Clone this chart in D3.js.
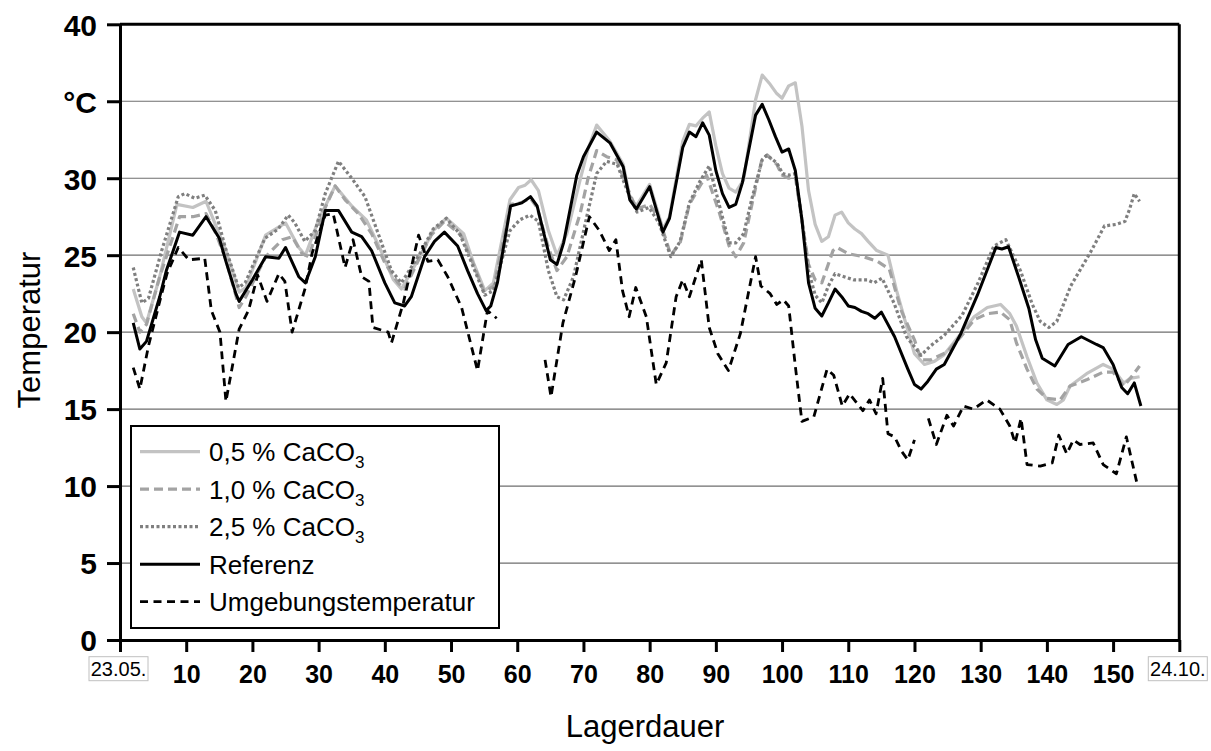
<html>
<head>
  <meta charset="utf-8">
  <title>Temperatur - Lagerdauer</title>
  <style>
    body { margin: 0; background: #fff; }
    svg { font-family: Arial, "Liberation Sans", sans-serif; }
  </style>
  <script src="https://d3js.org/d3.v7.min.js"></script>
</head>
<body>
<div id="chart"></div>
<script>
// Data: [day, temperature in °C]
var ca05 = [[2,22.8],[3.3,21.0],[4,20.6],[6,23.6],[8.6,28.3],[11,28.1],[13,28.5],[16,25.3],[18,22.6],[19,22.9],[22,26.3],[25,27.1],[27,25.5],[28,25.0],[30,27.3],[32.5,29.5],[35,28.2],[37.2,27.3],[39.2,25.5],[41.3,23.4],[42.5,22.8],[45.3,24.9],[47.3,26.6],[49.3,27.4],[51.9,26.4],[53.4,24.5],[55.1,22.7],[56.4,23.2],[58.9,28.6],[60.2,29.4],[61.2,29.55],[62.1,29.9],[63.2,29.2],[64.7,26.6],[66,25.0],[67.5,26.4],[69.5,29.9],[70.7,31.9],[72,33.45],[74,32.4],[76,30.9],[77,28.8],[78,28.2],[80,29.6],[82,26.7],[83,27.5],[85,32.4],[86,33.5],[87,33.4],[88,33.9],[89,34.3],[90,32.1],[91,30.3],[92,29.35],[93,29.1],[94.2,29.9],[96,35.1],[97,36.7],[98.2,36.1],[99.2,35.5],[100,35.2],[101,36.0],[102,36.2],[103,33.4],[104,29.2],[105,27.0],[106,25.9],[107,26.2],[108,27.6],[109,27.8],[110,27.1],[111,26.7],[112,26.4],[113,25.9],[114.3,25.3],[116,25.0],[117.3,22.7],[118.8,20.4],[120,18.6],[121.5,17.9],[123,18.1],[124.4,18.5],[127,19.9],[129,21.0],[131,21.6],[133,21.8],[134.4,21.2],[135.4,20.4],[137,18.4],[138.5,16.7],[140,15.6],[141.5,15.3],[142.5,15.6],[143.5,16.5],[146,17.3],[148.5,17.9],[150,17.6],[151.6,16.7],[152.6,17.0],[154,17.1]];

var ca10 = [[2,21.2],[3,20.0],[4,20.5],[6,23.6],[9,27.5],[11,27.5],[13,27.7],[14.5,26.4],[16,24.7],[18,21.6],[19,22.3],[22,24.9],[24.5,26.0],[26,26.2],[27.5,25.1],[28.5,24.9],[31,28.1],[32.5,29.5],[34,28.6],[36,27.7],[38,26.4],[40,24.5],[42,23.2],[43,22.8],[45,24.6],[47,26.3],[49,27.2],[51.5,26.3],[53.5,24.3],[55,22.6],[56.5,23.0],[59,28.3],[60.5,28.4],[62,28.7],[63,28.1],[64.7,25.5],[66,24.0],[67.5,24.9],[69.5,27.7],[70.7,30.0],[72,31.8],[73.5,31.4],[75,31.2],[76.6,29.4],[78,28.0],[80,28.3],[81.5,27.3],[83.2,25.0],[84.6,25.8],[86,28.3],[87.6,29.5],[88.6,30.2],[90.5,27.8],[92,25.6],[93,24.9],[94.2,25.8],[95.5,28.4],[97,31.3],[97.8,31.5],[99.2,30.9],[100,30.2],[101,30.0],[102,30.1],[103,27.3],[104,24.4],[105,23.4],[106,23.2],[107.7,25.3],[108.3,25.5],[110,25.1],[112.3,24.9],[114.4,24.6],[116.2,24.1],[118,21.4],[120,19.5],[121,18.2],[122.4,18.2],[124.9,18.7],[127,19.7],[129,20.8],[131,21.2],[133,21.3],[134.4,20.8],[135.4,19.3],[137,17.6],[138.5,16.3],[140,15.7],[142,15.6],[143.5,16.5],[146,16.9],[148.5,17.4],[150,17.4],[151.6,16.5],[152.6,17.0],[154,17.8]];

var ca25 = [[2,24.2],[3.3,21.9],[4.3,22.2],[6.3,25.3],[8.8,28.8],[9.8,29.0],[11.3,28.7],[12.8,28.9],[14.4,27.9],[15.9,25.5],[17.9,22.9],[18.9,23.2],[21.9,26.1],[23.9,26.7],[25.4,27.6],[26.4,27.1],[27.9,25.9],[29.5,26.6],[31,29.0],[33,31.1],[35,30.0],[37,28.8],[39,26.4],[41,24.0],[42.5,23.2],[45.3,25.1],[47.3,26.7],[49.3,27.4],[51.3,26.4],[53.4,24.2],[55.1,22.4],[56.4,22.7],[58.9,26.6],[60.4,27.3],[61.9,27.6],[63.2,27.2],[64.7,24.0],[66,22.3],[67,22.1],[68.5,23.6],[70.5,27.5],[72,30.3],[73.5,31.1],[75.1,30.9],[76.6,29.2],[78.1,27.8],[79.9,28.1],[81.4,27.1],[83.2,24.9],[84.6,25.9],[86,28.4],[87.6,29.8],[89,30.8],[90.5,28.3],[92,25.8],[93,25.8],[94.2,26.4],[95.4,28.6],[97,31.2],[97.7,31.5],[99.2,31.0],[100.1,30.3],[101,30.2],[102,30.3],[103,27.3],[104,24.0],[105,22.4],[106,21.9],[107,23.0],[108,23.8],[110.8,23.4],[112.9,23.4],[113.9,23.2],[115.1,23.5],[116.9,21.9],[118.8,19.7],[121,18.5],[122.4,19.1],[124.5,19.8],[127.2,21.1],[129.6,23.2],[132,25.6],[133.8,26.0],[136,24.0],[137.8,21.8],[139,20.7],[140.3,20.3],[141.5,20.7],[143.6,23.0],[146.6,25.2],[148.7,26.9],[150.5,27.0],[151.8,27.2],[152.5,28.0],[153.2,29.0],[154,28.5]];

var ref = [[2,20.6],[3,18.9],[4,19.4],[6,22.3],[7,24.0],[9,26.5],[11,26.3],[13,27.5],[15,26.1],[16,24.6],[17.5,22.5],[18,22.0],[20,23.4],[22,24.9],[24,24.8],[25,25.5],[27,23.6],[28,23.2],[29.5,24.9],[31,27.9],[33,27.9],[35,26.5],[36.5,26.2],[38,25.3],[40,23.2],[41.5,21.9],[43,21.7],[44,22.3],[46,24.9],[47.5,25.9],[49,26.5],[51,25.6],[52.5,24.0],[54,22.5],[55.3,21.4],[56,21.7],[57,23.2],[59,28.2],[60.7,28.4],[62,28.8],[63,28.2],[65,24.7],[66,24.4],[67,25.8],[69,30.2],[70,31.4],[72,33.0],[74,32.3],[76,30.75],[77,28.6],[78,28.0],[80,29.45],[82,26.5],[83,27.4],[85,32.0],[86,33.0],[87,32.7],[88,33.6],[89,32.8],[90,30.5],[91,29.0],[92,28.1],[93,28.3],[94,29.7],[96,34.1],[97,34.8],[98,33.8],[99,32.7],[100,31.7],[101,31.9],[102,30.5],[103,27.3],[104,23.2],[105,21.55],[106,21.05],[107,21.9],[108,22.8],[109,22.3],[110,21.7],[111,21.6],[112,21.35],[113,21.2],[114,20.9],[115,21.3],[117,19.7],[119,17.6],[120,16.6],[121,16.3],[122,16.8],[123.3,17.6],[124.5,17.9],[127,19.9],[129.5,22.4],[132.3,25.5],[133.2,25.4],[134.2,25.55],[135.8,23.5],[137.3,21.5],[138.3,19.5],[139.3,18.3],[141.2,17.8],[143.2,19.2],[145.2,19.7],[147.5,19.2],[148.5,19.0],[150,17.9],[151.3,16.4],[152.2,16.0],[153.2,16.7],[154.2,15.2]];

var ambient = [[2,17.7],[3,16.3],[4.3,19.1],[6.3,22.5],[7.1,23.8],[8.8,25.5],[10.4,24.7],[12.8,24.8],[13.8,21.4],[15.1,20.0],[16,15.5],[18,20.2],[19.4,21.4],[20.8,23.7],[22.2,22.0],[24,23.8],[24.9,23.3],[26,20.0],[28,22.9],[29,25.1],[31,27.6],[32.2,27.7],[34,24.2],[35.2,26.0],[36.5,23.6],[37.6,23.3],[38.2,20.3],[40.5,20.0],[41,19.3],[42.8,21.9],[45.1,26.3],[46.5,24.6],[48,24.7],[49.5,23.6],[51.6,21.6],[54,17.5],[55.5,21.4],[56.9,20.9],[60,null],[64.2,18.2],[65.1,15.8],[66.9,20.6],[68.8,23.6],[70.9,27.5],[72.4,26.6],[73.9,25.3],[74.9,26.0],[75.9,22.7],[76.9,21.0],[77.9,22.9],[79.5,21.0],[81,16.6],[82.5,18.0],[84,22.3],[85,23.4],[86,22.3],[87.8,24.7],[89,20.3],[90.3,18.6],[91.9,17.5],[93.7,19.9],[96,24.9],[96.8,23.0],[98.2,22.5],[99.2,21.8],[100.2,22.1],[101,21.7],[102,17.8],[103,14.2],[104.8,14.5],[106.8,17.6],[107.8,17.2],[109.1,15.2],[110.2,16.0],[112.2,14.9],[113.2,15.6],[114.2,14.7],[115.2,17.0],[116,13.4],[117,13.2],[118,12.3],[119,11.7],[120,13.0],[121,null],[122.1,14.4],[123.3,12.7],[124.9,14.6],[125.9,13.9],[127.4,15.2],[128.9,15.0],[130.9,15.6],[132.9,15.0],[134.4,13.9],[135.2,12.8],[136.1,14.4],[137,11.4],[139,11.3],[140.8,11.5],[141.8,13.3],[143,12.1],[144,13.0],[145,12.7],[147,12.8],[148.5,11.4],[150.5,10.8],[152,13.2],[153.7,10.0]];

var seriesNames = ["0,5 % CaCO", "1,0 % CaCO", "2,5 % CaCO", "Referenz", "Umgebungstemperatur"];
var xTicks = [0, 10, 20, 30, 40, 50, 60, 70, 80, 90, 100, 110, 120, 130, 140, 150, 160];
var yTicks = [0, 5, 10, 15, 20, 25, 30, 35, 40];
var yTickLabels = ["0", "5", "10", "15", "20", "25", "30", "°C", "40"];
var dateLabels = ["23.05.", "24.10."];

var W = 1211, H = 751;
var plotLeft = 120, plotRight = 1179.3, plotTop = 24.3, plotBottom = 640;

var x = d3.scaleLinear().domain([0, 160]).range([plotLeft, plotRight]);
var y = d3.scaleLinear().domain([0, 40]).range([plotBottom, plotTop]);

var svg = d3.select("#chart").append("svg")
    .attr("width", W)
    .attr("height", H);

// grid lines
svg.append("g")
    .selectAll("line")
    .data(yTicks.filter(function(d) { return d > 0 && d < 40; }))
    .enter().append("line")
    .attr("x1", plotLeft).attr("x2", plotRight)
    .attr("y1", function(d) { return y(d); })
    .attr("y2", function(d) { return y(d); })
    .attr("stroke", "#6e6e6e")
    .attr("stroke-width", 1.2);

// series
var styles = [
  { data: ca05, color: "#c3c3c3", width: 3.2, dash: null },
  { data: ca10, color: "#a3a3a3", width: 3.2, dash: "9,5" },
  { data: ca25, color: "#7f7f7f", width: 3.2, dash: "3,2.5" },
  { data: ref, color: "#000", width: 3, dash: null },
  { data: ambient, color: "#000", width: 2.8, dash: "8,5.5" }
];

var line = d3.line()
    .defined(function(d) { return d[1] != null; })
    .x(function(d) { return x(d[0]); })
    .y(function(d) { return y(d[1]); });

svg.append("g").selectAll("path")
    .data(styles)
    .enter().append("path")
    .attr("d", function(d) { return line(d.data); })
    .attr("fill", "none")
    .attr("stroke", function(d) { return d.color; })
    .attr("stroke-width", function(d) { return d.width; })
    .attr("stroke-dasharray", function(d) { return d.dash; })
    .attr("stroke-linejoin", "round");

// y axis
var yAxis = svg.append("g")
    .attr("transform", "translate(" + plotLeft + ",0)")
    .call(d3.axisLeft(y).tickValues(yTicks).tickSize(13).tickSizeOuter(0)
      .tickFormat(function(d, i) { return yTickLabels[i]; }));
yAxis.selectAll("line").attr("stroke", "#000").attr("stroke-width", 3);
yAxis.select(".domain").attr("stroke", "#000").attr("stroke-width", 3);
yAxis.selectAll("text")
    .attr("x", -23)
    .attr("dy", "0.36em")
    .style("font-size", "30px")
    .style("font-weight", "bold")
    .style("font-family", "Arial, 'Liberation Sans', sans-serif")
    .attr("fill", "#000");

// x axis
var xAxis = svg.append("g")
    .attr("transform", "translate(0," + plotBottom + ")")
    .call(d3.axisBottom(x).tickValues(xTicks).tickSize(12).tickSizeOuter(0)
      .tickFormat(function(d) { return (d === 0 || d === 160) ? "" : d; }));
xAxis.selectAll("line").attr("stroke", "#000").attr("stroke-width", 3);
xAxis.select(".domain").attr("stroke", "#000").attr("stroke-width", 3);
xAxis.selectAll("text")
    .attr("y", 43)
    .attr("dy", 0)
    .style("font-size", "25px")
    .style("font-weight", "bold")
    .style("font-family", "Arial, 'Liberation Sans', sans-serif")
    .attr("fill", "#000");

// top and right frame
svg.append("line")
    .attr("x1", x(160)).attr("x2", x(160))
    .attr("y1", y(40)).attr("y2", plotBottom)
    .attr("stroke", "#000").attr("stroke-width", 3);
svg.append("line")
    .attr("x1", plotLeft).attr("x2", x(160))
    .attr("y1", y(40)).attr("y2", y(40))
    .attr("stroke", "#000").attr("stroke-width", 3);

// boxed date labels
var dates = svg.append("g").selectAll("g")
    .data([0, 160])
    .enter().append("g")
    .attr("transform", function(d) { return "translate(" + (x(d) - 1.5) + ",668.5)"; });
dates.append("rect")
    .attr("x", -29.5).attr("y", -11.8)
    .attr("width", 59).attr("height", 24)
    .attr("fill", "#fff")
    .attr("stroke", "#c0c0c0")
    .attr("stroke-width", 1);
dates.append("text")
    .attr("text-anchor", "middle")
    .attr("y", 7.5)
    .style("font-size", "20px")
    .text(function(d, i) { return dateLabels[i]; });

// axis titles
svg.append("text")
    .attr("transform", "translate(40,330) rotate(-90)")
    .attr("text-anchor", "middle")
    .style("font-size", "31px")
    .text("Temperatur");
svg.append("text")
    .attr("x", 645).attr("y", 737)
    .attr("text-anchor", "middle")
    .style("font-size", "31px")
    .text("Lagerdauer");

// legend
var legend = svg.append("g");
legend.append("rect")
    .attr("x", 131).attr("y", 426)
    .attr("width", 368).attr("height", 202)
    .attr("fill", "#fff")
    .attr("stroke", "#000")
    .attr("stroke-width", 2);

var rows = legend.selectAll(".row")
    .data(styles)
    .enter().append("g")
    .attr("class", "row")
    .attr("transform", function(d, i) { return "translate(0," + (451.7 + i * 37.5) + ")"; });

rows.append("line")
    .attr("x1", 140).attr("x2", 200)
    .attr("stroke", function(d) { return d.color; })
    .attr("stroke-width", function(d) { return d.width; })
    .attr("stroke-dasharray", function(d) { return d.dash; });

var labels = rows.append("text")
    .attr("x", 209)
    .attr("y", 9.5)
    .style("font-size", "26px")
    .text(function(d, i) { return seriesNames[i]; });
labels.filter(function(d, i) { return i < 3; })
    .append("tspan")
    .attr("dy", 7)
    .style("font-size", "17px")
    .text("3");
</script>
</body>
</html>
